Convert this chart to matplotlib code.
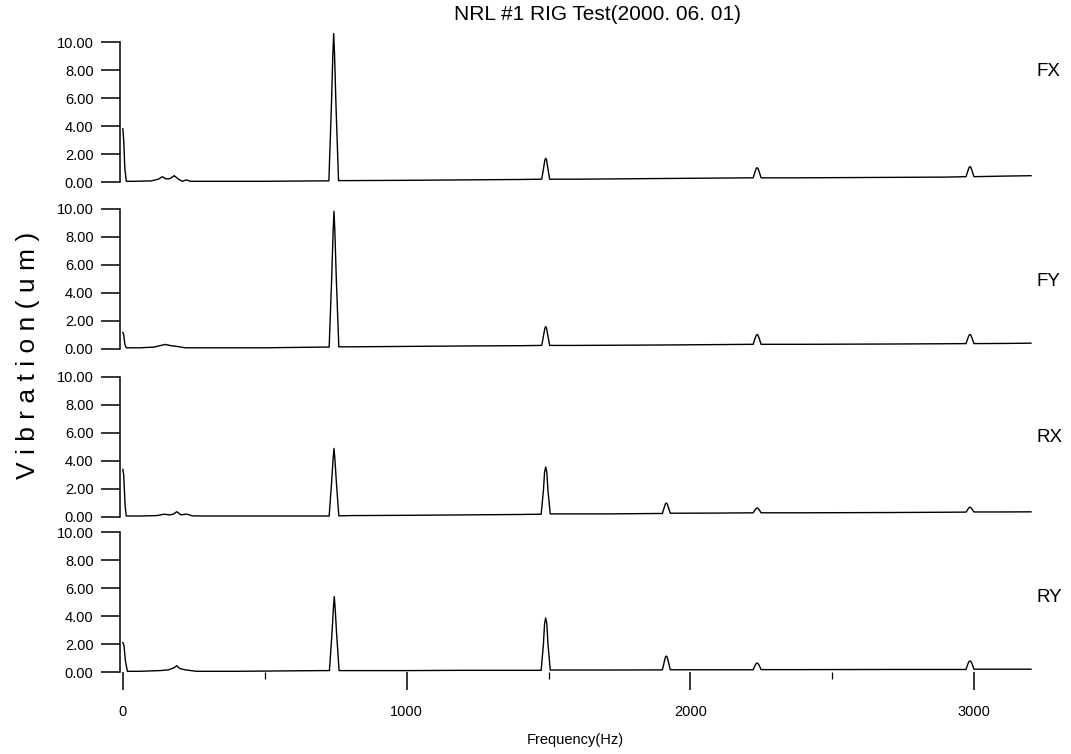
import matplotlib
matplotlib.use("Agg")
import matplotlib.pyplot as plt

plt.rcParams['font.family'] = ['Liberation Sans', 'DejaVu Sans']

title = "NRL #1 RIG Test(2000. 06. 01)"
xlabel = "Frequency(Hz)"
ylabel = "V i b r a t i o n ( u m )"
channels = ["FX", "FY", "RX", "RY"]
yticks = [0, 2, 4, 6, 8, 10]
xticks_major = [0, 1000, 2000, 3000]
xticks_minor = [500, 1500, 2500]

# ---- FX trace (Hz, um) ----
fx_freq = [0, 3, 7, 12, 40, 100, 125, 139, 152, 166, 181, 196, 210, 224, 238, 300, 500, 700,
           726, 735, 740, 743, 746, 751, 760,
           800, 1000, 1200, 1400,
           1476, 1483, 1487, 1490, 1493, 1497, 1504,
           1600, 1900, 2100,
           2221, 2228, 2232, 2235, 2238, 2242, 2249,
           2400, 2700, 2900,
           2971, 2978, 2982, 2985, 2988, 2992, 2999,
           3100, 3200]
fx_amp = [3.8, 3.0, 1.0, 0.05, 0.05, 0.08, 0.2, 0.38, 0.22, 0.24, 0.45, 0.2, 0.05, 0.15, 0.05, 0.05, 0.05, 0.08,
          0.08, 5.5, 9.1, 10.6, 9.1, 5.5, 0.1,
          0.1, 0.12, 0.15, 0.18,
          0.2, 1.05, 1.57, 1.7, 1.57, 1.05, 0.2,
          0.2, 0.25, 0.28,
          0.3, 0.75, 0.97, 1.02, 0.97, 0.75, 0.3,
          0.3, 0.33, 0.35,
          0.38, 0.82, 1.05, 1.1, 1.05, 0.82, 0.38,
          0.42, 0.45]

# ---- FY trace ----
fy_freq = [0, 3, 7, 12, 60, 110, 130, 150, 170, 190, 220, 300, 500, 700,
           727, 736, 741, 744, 747, 752, 761,
           800, 1000, 1200, 1400,
           1476, 1483, 1487, 1490, 1493, 1497, 1504,
           1600, 1900, 2100,
           2221, 2228, 2232, 2235, 2238, 2242, 2249,
           2400, 2700, 2900,
           2971, 2978, 2982, 2985, 2988, 2992, 2999,
           3100, 3200]
fy_amp = [1.15, 1.0, 0.3, 0.05, 0.05, 0.1, 0.2, 0.29, 0.2, 0.15, 0.05, 0.05, 0.05, 0.1,
          0.1, 5.1, 8.4, 9.8, 8.4, 5.1, 0.12,
          0.12, 0.15, 0.18, 0.2,
          0.22, 1.0, 1.45, 1.57, 1.45, 1.0, 0.22,
          0.22, 0.25, 0.28,
          0.3, 0.74, 0.95, 1.0, 0.95, 0.74, 0.3,
          0.3, 0.32, 0.34,
          0.35, 0.76, 0.96, 1.0, 0.96, 0.76, 0.35,
          0.36, 0.38]

# ---- RX trace ----
rx_freq = [0, 3, 8, 12, 60, 120, 146, 165, 178, 190, 205, 225, 245, 300, 500, 700,
           727, 736, 741, 744, 747, 752, 761,
           800, 1000, 1200, 1400,
           1474, 1482, 1486, 1490, 1494, 1498, 1506,
           1700, 1880,
           1901, 1908, 1912, 1915, 1918, 1922, 1929,
           2100,
           2221, 2228, 2232, 2235, 2238, 2242, 2249,
           2400, 2700, 2900,
           2971, 2978, 2982, 2985, 2988, 2992, 2999,
           3100, 3200]
rx_amp = [3.4, 3.0, 0.8, 0.07, 0.07, 0.1, 0.2, 0.15, 0.2, 0.38, 0.15, 0.21, 0.08, 0.07, 0.07, 0.07,
          0.07, 2.6, 4.2, 4.9, 4.2, 2.6, 0.08,
          0.1, 0.12, 0.15, 0.18,
          0.2, 1.9, 3.2, 3.57, 3.2, 1.9, 0.22,
          0.22, 0.25,
          0.25, 0.7, 0.95, 1.0, 0.95, 0.7, 0.27,
          0.28,
          0.3, 0.52, 0.62, 0.64, 0.62, 0.52, 0.3,
          0.3, 0.32, 0.34,
          0.35, 0.56, 0.68, 0.7, 0.68, 0.56, 0.36,
          0.36, 0.37]

# ---- RY trace ----
ry_freq = [0, 4, 9, 16, 60, 130, 160, 180, 190, 200, 220, 260, 400, 700,
           728, 737, 742, 745, 748, 753, 762,
           800, 1000, 1200, 1400,
           1474, 1482, 1486, 1490, 1494, 1498, 1506,
           1700, 1880,
           1901, 1908, 1912, 1915, 1918, 1922, 1929,
           2100,
           2221, 2228, 2232, 2235, 2238, 2242, 2249,
           2400, 2700, 2900,
           2971, 2978, 2982, 2985, 2988, 2992, 2999,
           3100, 3200]
ry_amp = [2.1, 1.9, 0.8, 0.05, 0.05, 0.1, 0.15, 0.3, 0.45, 0.25, 0.15, 0.05, 0.05, 0.1,
          0.1, 2.8, 4.6, 5.38, 4.6, 2.8, 0.1,
          0.1, 0.1, 0.12, 0.12,
          0.12, 2.0, 3.45, 3.86, 3.45, 2.0, 0.14,
          0.14, 0.15,
          0.15, 0.75, 1.07, 1.14, 1.07, 0.75, 0.16,
          0.16,
          0.16, 0.48, 0.61, 0.64, 0.61, 0.48, 0.17,
          0.17, 0.18, 0.18,
          0.18, 0.6, 0.76, 0.79, 0.76, 0.6, 0.2,
          0.2, 0.2]

series = [(fx_freq, fx_amp), (fy_freq, fy_amp), (rx_freq, rx_amp), (ry_freq, ry_amp)]

W, H = 1071, 754
fig = plt.figure(figsize=(W / 100, H / 100), dpi=100)

# pixel rows of y=10 and y=0 for each panel
panel_px = [(42, 182), (208.5, 348.5), (377, 517), (532, 672)]
left_px, right_px = 120, 1031
label_y_px = [72, 282, 437, 597]

for i, ((top, bot), (fq, am)) in enumerate(zip(panel_px, series)):
    ax = fig.add_axes([left_px / W, 1 - bot / H, (right_px - left_px) / W, (bot - top) / H])
    ax.plot(fq, am, color='black', lw=1.0, clip_on=False)
    ax.set_xlim(-10, 3200)
    ax.set_ylim(0, 10)
    ax.set_yticks(yticks)
    ax.set_yticklabels([f"{v:.2f}" for v in yticks])
    for s in ['top', 'right', 'bottom']:
        ax.spines[s].set_visible(False)
    ax.spines['left'].set_linewidth(1.1)
    ax.tick_params(axis='y', direction='out', length=14, width=1.1, labelsize=10.5, pad=5)
    if i < 3:
        ax.tick_params(axis='x', bottom=False, labelbottom=False)
    else:
        ax.set_xticks(xticks_major)
        ax.set_xticks(xticks_minor, minor=True)
        ax.tick_params(axis='x', which='major', direction='out', length=13, width=1.1,
                       labelsize=10.5, pad=11)
        ax.tick_params(axis='x', which='minor', direction='out', length=5, width=0.9)
        ax.set_xlabel(xlabel, fontsize=10.5, labelpad=10)
    ax.patch.set_alpha(0)
    fig.text(1036 / W, 1 - label_y_px[i] / H, channels[i], fontsize=13.5,
             ha='left', va='center')

fig.text(598 / W, 1 - 15 / H, title, fontsize=15, ha='center', va='center')
fig.text(28 / W, 1 - 355 / H, ylabel, fontsize=19, rotation=90, ha='center', va='center')

fig.savefig("out.png", dpi=100)
